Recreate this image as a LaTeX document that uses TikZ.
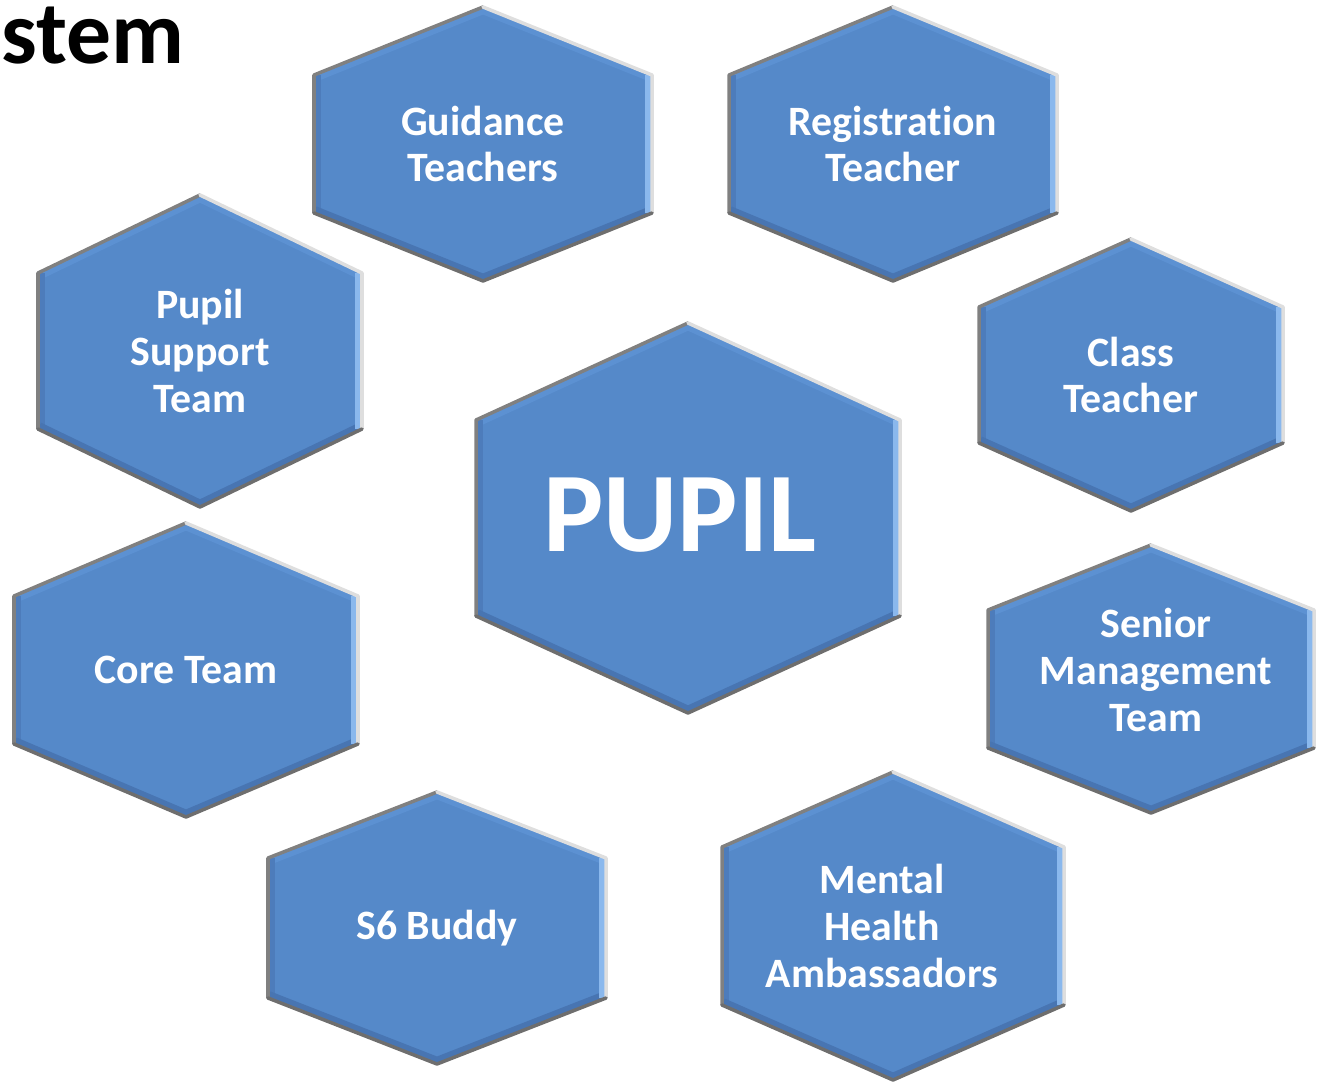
\documentclass[tikz,border=0pt]{standalone}
\usepackage{fontspec}
\setmainfont{Carlito}[Ligatures=NoCommon]
\usepackage{tikz}

\definecolor{hexblue}{RGB}{85,137,201}
\definecolor{bevright}{RGB}{138,184,237}
\definecolor{bevbottom}{RGB}{72,117,178}
\definecolor{bevleft}{RGB}{77,124,187}
\definecolor{bevtop}{RGB}{92,145,210}
\definecolor{rimdark}{RGB}{128,128,128}
\definecolor{rimlight}{RGB}{222,222,222}
\definecolor{rimmid}{RGB}{110,110,110}

\tikzset{
	bevel/.style={line width=8pt},
	rim/.style={line width=2pt, line cap=round, line join=round},
	hextext/.style={text=white, font=\bfseries\fontsize{23.8}{26.5}\selectfont, align=center, inner sep=0pt},
}

% [text offset]{name}{cx}{cy}{half width}{half height}{half side}{text}
\newcommand{\hexcell}[8][0,0]{%
	\begin{scope}[shift={(#3,#4)}]
		\coordinate (#2-t) at (0,-#6);
		\coordinate (#2-tr) at (#5,-#7);
		\coordinate (#2-br) at (#5,#7);
		\coordinate (#2-b) at (0,#6);
		\coordinate (#2-bl) at (-#5,#7);
		\coordinate (#2-tl) at (-#5,-#7);
		\begin{scope}
			\clip (#2-t) -- (#2-tr) -- (#2-br) -- (#2-b) -- (#2-bl) -- (#2-tl) -- cycle;
			\fill[hexblue] (-#5,-#6) rectangle (#5,#6);
			\draw[bevel, bevtop] (#2-tl) -- (#2-t) -- (#2-tr);
			\draw[bevel, bevleft] (#2-tl) -- (#2-bl);
			\draw[bevel, bevbottom] (#2-bl) -- (#2-b) -- (#2-br);
			\draw[bevel, bevright] (#2-br) -- (#2-tr);
		\end{scope}
		\draw[rim, rimdark] (#2-bl) -- (#2-tl) -- (#2-t);
		\draw[rim, rimlight] (#2-t) -- (#2-tr) -- (#2-br);
		\draw[rim, rimmid] (#2-br) -- (#2-b) -- (#2-bl);
		\node[hextext] (#2) at (#1) {#8};
	\end{scope}}

\begin{document}
\begin{tikzpicture}[x=0.02cm, y=-0.02cm]
	%%%%% START %%%%%
	\useasboundingbox (0,0) rectangle (1317,1082);
	
	\node[anchor=base west, inner sep=0pt, font=\bfseries\fontsize{51}{54}\selectfont] (title) at (1,63) {stem};
	
	\hexcell{guid}{483}{144}{169}{137}{69}{Guidance\\Teachers}
	\hexcell{reg}{893}{144}{164}{137}{69}{Registration\\Teacher}
	\hexcell{pst}{200}{351}{162}{156}{78}{Pupil\\Support\\Team}
	\hexcell{cls}{1131}{375}{152}{136}{68}{Class\\Teacher}
	\hexcell[-8,-3]{pupil}{688}{518}{212}{195}{98}{\fontsize{64.6}{70}\selectfont PUPIL}
	\hexcell{core}{186}{670}{172}{147}{74}{Core Team}
	\hexcell[5,-9]{smt}{1151}{679}{163}{134}{69}{Senior\\Management\\Team}
	\hexcell{sixb}{437}{928}{169}{136}{70}{S6 Buddy}
	\hexcell[-11,0]{mha}{893}{926}{171}{154}{79}{Mental\\Health\\Ambassadors}
	
	%%%%% END %%%%%
\end{tikzpicture}
\end{document}
